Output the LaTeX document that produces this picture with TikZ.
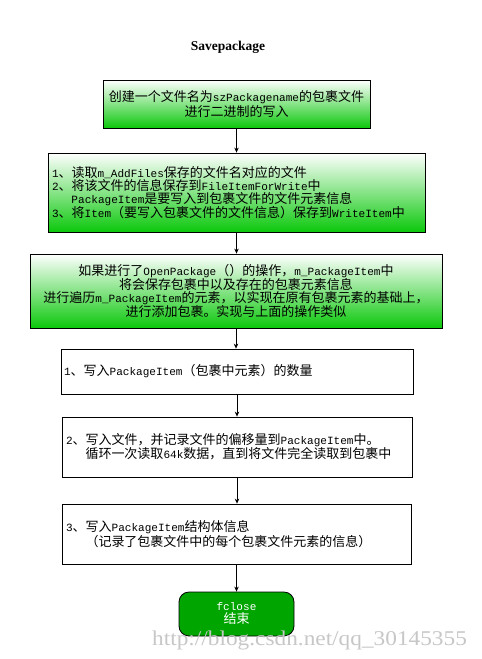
\documentclass[tikz,border=0pt]{standalone}
\usepackage{fontspec}
\setmainfont{Noto Sans CJK SC}
\newfontfamily\latfont{Liberation Mono}[Scale=0.85]
\newfontfamily\titlefont{Liberation Serif}
\newcommand\ltn[1]{{\latfont #1}}
\usetikzlibrary{arrows.meta}
\definecolor{boxgreen}{RGB}{12,200,12}
\definecolor{termgreen}{RGB}{0,165,0}
\tikzset{
  gbox/.style={draw=black, line width=0.8pt, top color=white, bottom color=boxgreen, inner sep=0pt, font=\fontsize{13}{13}\selectfont},
  wbox/.style={draw=black, line width=0.8pt, fill=white, inner sep=0pt, font=\fontsize{13}{13}\selectfont},
  term/.style={draw=black, line width=0.8pt, fill=termgreen, rounded corners=10pt, text=white, inner sep=0pt, align=center, font=\fontsize{13}{13}\selectfont},
  flow/.style={draw=black, line width=0.8pt, -{Stealth[length=5pt,width=4.5pt]}},
}
\begin{document}
\begin{tikzpicture}[x=1pt,y=-1pt]
\useasboundingbox (0,0) rectangle (482,659);
\fill[white] (0,0) rectangle (482,659);

\node (title) at (228,47) {\titlefont\bfseries\fontsize{13.5}{13.5}\selectfont Savepackage};

\node[gbox, minimum width=267pt, minimum height=48pt, align=center] (b1) at (236.5,104)
  {创建一个文件名为\ltn{szPackagename}的包裹文件\\进行二进制的写入};

\node[gbox, minimum width=377pt, minimum height=79pt, text width=369pt, align=left] (b2) at (236.5,192.5)
  {\ltn{1}、读取\ltn{m\_AddFiles}保存的文件名对应的文件\\
   \ltn{2}、将该文件的信息保存到\ltn{FileItemForWrite}中\\
   \hspace*{19.5pt}\ltn{PackageItem}是要写入到包裹文件的文件元素信息\\
   \ltn{3}、将\ltn{Item}（要写入包裹文件的文件信息）保存到\ltn{WriteItem}中};

\node[gbox, minimum width=412pt, minimum height=74pt, align=center] (b3) at (236,291)
  {如果进行了\ltn{OpenPackage}（）的操作，\ltn{m\_PackageItem}中\\
   将会保存包裹中以及存在的包裹元素信息\\
   进行遍历\ltn{m\_PackageItem}的元素，以实现在原有包裹元素的基础上，\\
   进行添加包裹。实现与上面的操作类似};

\node[wbox, minimum width=352pt, minimum height=45pt, text width=346pt, align=left] (b4) at (237,371.5)
  {\ltn{1}、写入\ltn{PackageItem}（包裹中元素）的数量};

\node[wbox, minimum width=350pt, minimum height=60pt, text width=342pt, align=left] (b5) at (237,447)
  {\ltn{2}、写入文件，并记录文件的偏移量到\ltn{PackageItem}中。\\
   \hspace*{19.5pt}循环一次读取\ltn{64k}数据，直到将文件完全读取到包裹中};

\node[wbox, minimum width=349pt, minimum height=60pt, text width=341pt, align=left] (b6) at (236.5,534)
  {\ltn{3}、写入\ltn{PackageItem}结构体信息\\
   \hspace*{19.5pt}（记录了包裹文件中的每个包裹文件元素的信息）};

\node[term, minimum width=115pt, minimum height=44pt] (t) at (236.5,614)
  {\ltn{fclose}\\结束};

\draw[flow] (b1.south) -- (b1.south |- b2.north);
\draw[flow] (b2.south) -- (b2.south |- b3.north);
\draw[flow] (b3.south) -- (b3.south |- b4.north);
\draw[flow] (b4.south) -- (b4.south |- b5.north);
\draw[flow] (b5.south) -- (b5.south |- b6.north);
\draw[flow] (b6.south) -- (b6.south |- t.north);

\node[anchor=base west, inner sep=0pt, text=black!22, xscale=1.11, transform shape] (wm) at (152,645)
  {\titlefont\fontsize{21}{21}\selectfont http://blog.csdn.net/qq\_30145355};
\end{tikzpicture}
\end{document}
